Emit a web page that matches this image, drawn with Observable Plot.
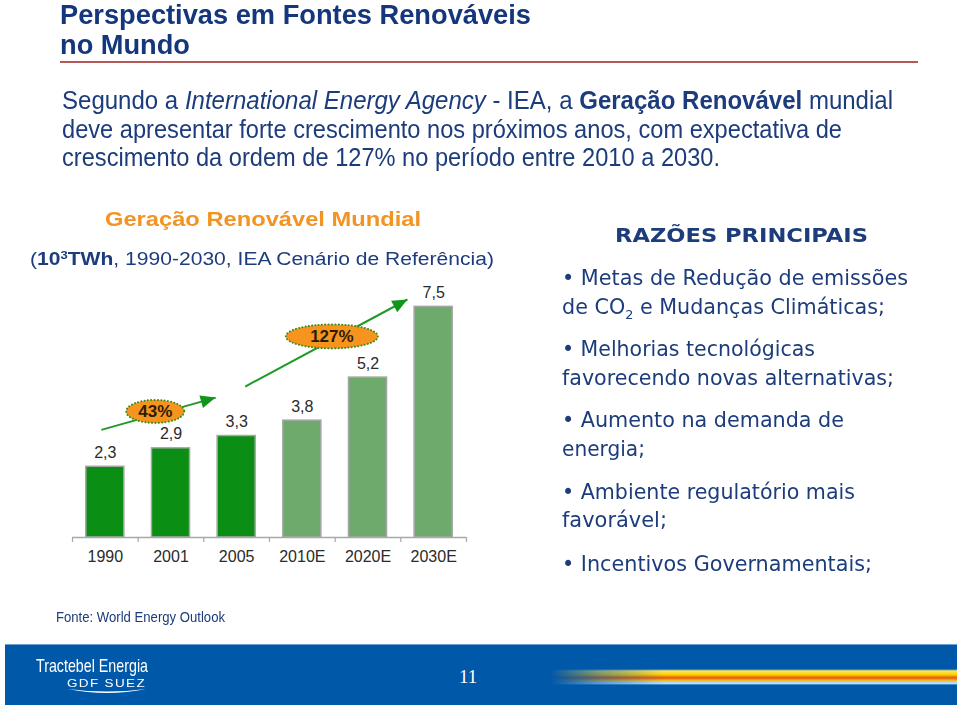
<!DOCTYPE html>
<html>
<head>
<meta charset="utf-8">
<script src="https://cdn.jsdelivr.net/npm/d3@7"></script>
<script src="https://cdn.jsdelivr.net/npm/@observablehq/plot@0.6"></script>
<style>
  html, body { margin: 0; padding: 0; background: #fff; }
  #slide { position: relative; width: 960px; height: 706px; overflow: hidden; background: #fff; }
  .t { position: absolute; white-space: nowrap; line-height: 1.15; transform-origin: 0 50%; }
  .narrow { font-family: "Liberation Sans Narrow", "Arial Narrow", "Liberation Sans", Arial, sans-serif; }
  .arial { font-family: "Liberation Sans", Arial, sans-serif; }
  .dv { font-family: "DejaVu Sans", Verdana, sans-serif; color: #1c3c7c; }
  .navy { color: #1c3c7c; }
  #chart { position: absolute; left: 0; top: 270px; }
  sub { font-size: 0.62em; vertical-align: -0.35em; line-height: 0; }
  sup { font-size: 0.62em; vertical-align: 0.5em; line-height: 0; }
</style>
</head>
<body>
<div id="slide">
  <div class="t narrow" data-w="471" style="left:60px;top:-1px;font-size:28px;font-weight:bold;color:#13367c;">Perspectivas em Fontes Renováveis</div>
  <div class="t narrow" data-w="130" style="left:60px;top:29px;font-size:28px;font-weight:bold;color:#13367c;">no Mundo</div>
  <div style="position:absolute;left:60px;top:61px;width:858px;height:2px;background:#b5585a;"></div>

  <div class="t narrow navy" data-w="831" style="left:62px;top:86px;font-size:26px;">Segundo a <i>International Energy Agency</i> - IEA, a <b>Geração Renovável</b> mundial</div>
  <div class="t narrow navy" data-w="780" style="left:62px;top:115px;font-size:26px;">deve apresentar forte crescimento nos próximos anos, com expectativa de</div>
  <div class="t narrow navy" data-w="658" style="left:62px;top:143px;font-size:26px;">crescimento da ordem de 127% no período entre 2010 a 2030.</div>

  <div class="t arial" data-w="316" style="left:105px;top:207px;font-size:21px;font-weight:bold;color:#f39321;">Geração Renovável Mundial</div>
  <div class="t arial navy" data-w="464" style="left:30px;top:249px;font-size:18px;">(<b>10<sup>3</sup>TWh</b>, 1990-2030, IEA Cenário de Referência)</div>

  <div class="t dv" data-w="253" style="left:615px;top:224px;font-size:20px;font-weight:bold;">RAZÕES PRINCIPAIS</div>
  <div class="t dv" data-w="346" style="left:562px;top:266px;font-size:21px;">• Metas de Redução de emissões</div>
  <div class="t dv" data-w="323" style="left:562px;top:295px;font-size:21px;">de CO<sub>2</sub> e Mudanças Climáticas;</div>
  <div class="t dv" data-w="253" style="left:562px;top:337px;font-size:21px;">• Melhorias tecnológicas</div>
  <div class="t dv" data-w="332" style="left:562px;top:366px;font-size:21px;">favorecendo novas alternativas;</div>
  <div class="t dv" data-w="282" style="left:562px;top:408px;font-size:21px;">• Aumento na demanda de</div>
  <div class="t dv" data-w="83" style="left:562px;top:437px;font-size:21px;">energia;</div>
  <div class="t dv" data-w="293" style="left:562px;top:480px;font-size:21px;">• Ambiente regulatório mais</div>
  <div class="t dv" data-w="105" style="left:562px;top:508px;font-size:21px;">favorável;</div>
  <div class="t dv" data-w="310" style="left:562px;top:552px;font-size:21px;">• Incentivos Governamentais;</div>

  <div id="chart"></div>

  <div class="t narrow navy" data-w="169" style="left:56px;top:609px;font-size:14px;">Fonte: World Energy Outlook</div>

  <div style="position:absolute;left:5px;top:644px;width:952px;height:60px;background:#0058a9;border-top:1px solid #6f9fd0;"></div>
  <div style="position:absolute;left:550px;top:669px;width:407px;height:16px;
       background:linear-gradient(to bottom,#0058a9 0%,#ffe66a 12%,#ffd000 35%,#e2561c 55%,#ffb400 70%,#a8d4f2 80%,#bfe0f7 92%,#0058a9 100%);
       -webkit-mask-image:linear-gradient(to right,transparent 0%,rgba(0,0,0,0.5) 12%,#000 28%,#000 100%);
       mask-image:linear-gradient(to right,transparent 0%,rgba(0,0,0,0.5) 12%,#000 28%,#000 100%);"></div>
  <div class="t narrow" data-w="112" style="left:36px;top:655px;font-size:19px;color:#fff;">Tractebel Energia</div>
  <div class="t arial" data-w="79" style="left:67px;top:678px;font-size:10px;color:#fff;letter-spacing:1px;">GDF SUEZ</div>
  <svg style="position:absolute;left:0;top:0;" width="960" height="706">
    <path d="M68,689 Q107,697 146,689 Q107,694 68,689Z" fill="#fff"/>
  </svg>
  <div class="t" style="left:459px;top:666px;font-size:19px;color:#fff;font-family:'Liberation Serif','Times New Roman',serif;">11</div>
</div>

<script>
// ---------- data ----------
const categories = ["1990", "2001", "2005", "2010E", "2020E", "2030E"];
const values = [2.3, 2.9, 3.3, 3.8, 5.2, 7.5];
const series = ["Realizado", "Realizado", "Realizado", "Estimado", "Estimado", "Estimado"];
const growthLabels = ["43%", "127%"];

// ---------- table built from the arrays ----------
const table = categories.map((c, i) => ({i, category: c, value: values[i], series: series[i],
  label: values[i].toFixed(1).replace(".", ",")}));

// ---------- layout (annotation placement, in data units) ----------
const arrows = [
  {x1: -0.06, y1: 3.5, x2: 1.68, y2: 4.55},
  {x1: 2.13, y1: 4.91, x2: 4.60, y2: 7.74}
];
const badges = [
  {x: 0.76, y: 4.10, rx: 29, ry: 11.5, label: growthLabels[0]},
  {x: 3.45, y: 6.54, rx: 46, ry: 12, label: growthLabels[1]}
];

const W = 480, H = 310;
const M = {top: 21, right: 14, bottom: 43, left: 72};
const xDomain = [-0.5, 5.5], xRange = [M.left, W - M.right];
const yDomain = [0, 8], yRange = [H - M.bottom, M.top];
const sx = Plot.scale({x: {type: "linear", domain: xDomain, range: xRange}});
const sy = Plot.scale({y: {type: "linear", domain: yDomain, range: yRange}});
arrows.forEach(a => {
  const dx = sx.apply(a.x2) - sx.apply(a.x1), dy = sy.apply(a.y2) - sy.apply(a.y1);
  a.angle = Math.atan2(dy, dx) * 180 / Math.PI + 90;
});

function ellipseSymbol(rx, ry) {
  const k = 0.5523;
  return {draw(ctx) {
    ctx.moveTo(rx, 0);
    ctx.bezierCurveTo(rx, k * ry, k * rx, ry, 0, ry);
    ctx.bezierCurveTo(-k * rx, ry, -rx, k * ry, -rx, 0);
    ctx.bezierCurveTo(-rx, -k * ry, -k * rx, -ry, 0, -ry);
    ctx.bezierCurveTo(k * rx, -ry, rx, -k * ry, rx, 0);
    ctx.closePath();
  }};
}
const headSymbol = {draw(ctx) {
  ctx.moveTo(0, 0); ctx.lineTo(-6.5, 15); ctx.lineTo(6.5, 15); ctx.closePath();
}};

const bounds = d3.range(7).map(i => i - 0.5);

const chart = Plot.plot({
  width: W, height: H,
  marginTop: M.top, marginRight: M.right, marginBottom: M.bottom, marginLeft: M.left,
  style: {background: "transparent", fontFamily: "'Liberation Sans', Arial, sans-serif", overflow: "visible"},
  x: {type: "linear", domain: xDomain, axis: null},
  y: {type: "linear", domain: yDomain, axis: null},
  color: {domain: ["Realizado", "Estimado"], range: ["#0b8e14", "#6eaa6c"]},
  marks: [
    Plot.rectY(table, {x1: d => d.i - 0.29, x2: d => d.i + 0.29, y1: 0, y2: "value",
      fill: "series", stroke: "#a4a8a4", strokeWidth: 1.5}),
    Plot.ruleY([0], {stroke: "#a8a8a8", strokeWidth: 1.5}),
    Plot.axisX(bounds, {anchor: "bottom", tickSize: 5, tickFormat: () => "", stroke: "#a8a8a8", strokeWidth: 1.2}),
    Plot.axisX(d3.range(6), {anchor: "bottom", tickSize: 0, tickPadding: 13,
      tickFormat: i => categories[i], fontSize: 16, fill: "#2a2a2a"}),
    Plot.text(table, {x: "i", y: "value", text: "label", dy: -14, fontSize: 16, fill: "#2a2a2a"}),
    Plot.link(arrows, {x1: "x1", y1: "y1", x2: "x2", y2: "y2", stroke: "#1f9a26", strokeWidth: 2}),
    Plot.dot(arrows, {x: "x2", y: "y2", rotate: "angle", symbol: headSymbol, fill: "#11961b", stroke: "none"}),
    ...badges.map(b => Plot.dot([b], {x: "x", y: "y", symbol: ellipseSymbol(b.rx, b.ry),
      fill: "#f7941d", stroke: "#3f8a1e", strokeWidth: 2, strokeDasharray: "0.1 3.2", strokeLinecap: "round"})),
    Plot.text(badges, {x: "x", y: "y", text: "label", fontSize: 17, fontWeight: "bold", fill: "#2b1d0a"})
  ]
});
document.getElementById("chart").appendChild(chart);

// ---------- fit text lines to widths ----------
document.querySelectorAll("[data-w]").forEach(el => {
  const w = el.getBoundingClientRect().width;
  const target = +el.dataset.w;
  if (w > 0) el.style.transform = `scaleX(${target / w})`;
});
</script>
</body>
</html>
